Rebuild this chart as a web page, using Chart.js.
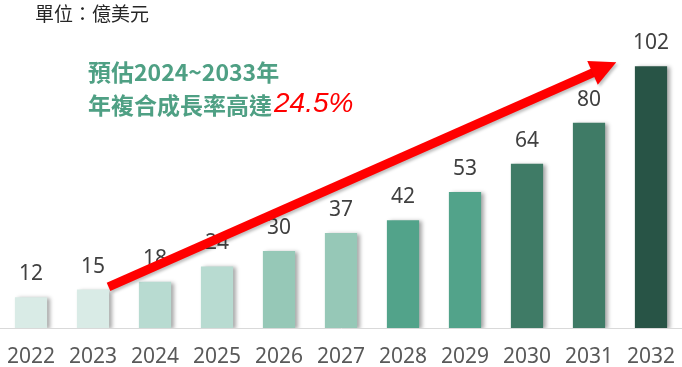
<!DOCTYPE html>
<html>
<head>
<meta charset="utf-8">
<script src="https://cdn.jsdelivr.net/npm/chart.js@4.4.1/dist/chart.umd.min.js"></script>
<style>
    html, body { margin: 0; padding: 0; background: #ffffff; }
    #wrap { width: 682px; height: 367px; position: relative; }
</style>
</head>
<body>
<div id="wrap"><canvas id="marketChart"></canvas></div>
<script>
// Chart data
const years = ['2022', '2023', '2024', '2025', '2026', '2027', '2028', '2029', '2030', '2031', '2032'];
const marketSize = [12, 15, 18, 24, 30, 37, 42, 53, 64, 80, 102];
const barColors = ['#d9ebe6', '#d9ebe6', '#b8dbd1', '#b8dbd1', '#96c8b7', '#96c8b7', '#52a38a', '#52a38a', '#3f7b66', '#3f7b66', '#285446'];

// Arrow annotation, in data coordinates (category index, value)
const arrowFrom = [1.25, 16];
const arrowTo = [9.44, 103.5];

const unitText = '單位：億美元';
const noteLine1 = '預估2024~2033年';
const noteLine2 = '年複合成長率高達';
const noteRate = '24.5%';

const numFont = '"Noto Sans", "Noto Sans CJK TC", sans-serif';
const cjkFont = '"Noto Sans CJK TC", "Noto Sans", sans-serif';

// Drop shadow behind the bars
const barShadow = {
    id: 'barShadow',
    beforeDatasetDraw(chart) {
        const ctx = chart.ctx;
        ctx.save();
        ctx.shadowColor = 'rgba(0, 0, 0, 0.35)';
        ctx.shadowBlur = 4;
        ctx.shadowOffsetX = 3;
        ctx.shadowOffsetY = 1;
    },
    afterDatasetDraw(chart) {
        chart.ctx.restore();
    }
};

// Value labels, arrow and texts
const overlay = {
    id: 'overlay',
    afterDatasetsDraw(chart) {
        const ctx = chart.ctx;
        const meta = chart.getDatasetMeta(0);
        const xs = chart.scales.x;
        const ys = chart.scales.y;

        ctx.save();
        ctx.fillStyle = '#404040';
        ctx.font = '21px ' + numFont;
        ctx.textAlign = 'center';
        ctx.textBaseline = 'alphabetic';
        meta.data.forEach((bar, i) => {
            ctx.fillText(String(marketSize[i]), bar.x, bar.y - 17);
        });

        // red arrow
        const x1 = xs.getPixelForValue(arrowFrom[0]);
        const y1 = ys.getPixelForValue(arrowFrom[1]);
        const x2 = xs.getPixelForValue(arrowTo[0]);
        const y2 = ys.getPixelForValue(arrowTo[1]);
        const ang = Math.atan2(y2 - y1, x2 - x1);
        const headLen = 26;
        const headHalf = 13;
        const bx = x2 - headLen * Math.cos(ang);
        const by = y2 - headLen * Math.sin(ang);
        ctx.shadowColor = 'rgba(0, 0, 0, 0.25)';
        ctx.shadowBlur = 3;
        ctx.shadowOffsetX = 2;
        ctx.shadowOffsetY = 2;
        ctx.strokeStyle = '#ff0000';
        ctx.fillStyle = '#ff0000';
        ctx.lineWidth = 9;
        ctx.beginPath();
        ctx.moveTo(x1, y1);
        ctx.lineTo(bx + 2 * Math.cos(ang), by + 2 * Math.sin(ang));
        ctx.stroke();
        ctx.beginPath();
        ctx.moveTo(x2, y2);
        ctx.lineTo(bx + headHalf * Math.sin(ang), by - headHalf * Math.cos(ang));
        ctx.lineTo(bx - headHalf * Math.sin(ang), by + headHalf * Math.cos(ang));
        ctx.closePath();
        ctx.fill();
        ctx.shadowColor = 'transparent';

        // unit
        ctx.textAlign = 'left';
        ctx.textBaseline = 'middle';
        ctx.fillStyle = '#262626';
        ctx.font = '19px ' + cjkFont;
        ctx.fillText(unitText, 35, 14);

        // CAGR note
        ctx.fillStyle = '#4fa084';
        ctx.font = 'bold 23px ' + cjkFont;
        ctx.fillText(noteLine1, 88, 72);
        ctx.fillText(noteLine2, 88, 105);
        const w2 = ctx.measureText(noteLine2).width;
        ctx.fillStyle = '#ff0000';
        ctx.font = 'italic 28px "Liberation Sans", Arial, sans-serif';
        ctx.fillText(noteRate, 88 + w2 + 2, 104);
        ctx.restore();
    }
};

new Chart(document.getElementById('marketChart'), {
    type: 'bar',
    data: {
        labels: years,
        datasets: [{
            data: marketSize,
            backgroundColor: barColors,
            borderWidth: 0,
            categoryPercentage: 1,
            barPercentage: 0.52
        }]
    },
    options: {
        responsive: true,
        maintainAspectRatio: false,
        animation: false,
        events: [],
        layout: {
            padding: { top: 20, bottom: 1, left: 0, right: 0 }
        },
        plugins: {
            legend: { display: false },
            tooltip: { enabled: false }
        },
        scales: {
            x: {
                grid: { display: false, drawTicks: false },
                border: { display: true, color: '#d9d9d9', width: 1 },
                ticks: {
                    color: '#595959',
                    padding: 16,
                    font: { family: numFont, size: 21 },
                    maxRotation: 0,
                    autoSkip: false
                },
                afterFit(scale) {
                    scale.height = 38;
                    scale.paddingLeft = 0;
                    scale.paddingRight = 0;
                }
            },
            y: {
                display: false,
                min: 0,
                max: 120
            }
        }
    },
    plugins: [barShadow, overlay]
});
</script>
</body>
</html>
